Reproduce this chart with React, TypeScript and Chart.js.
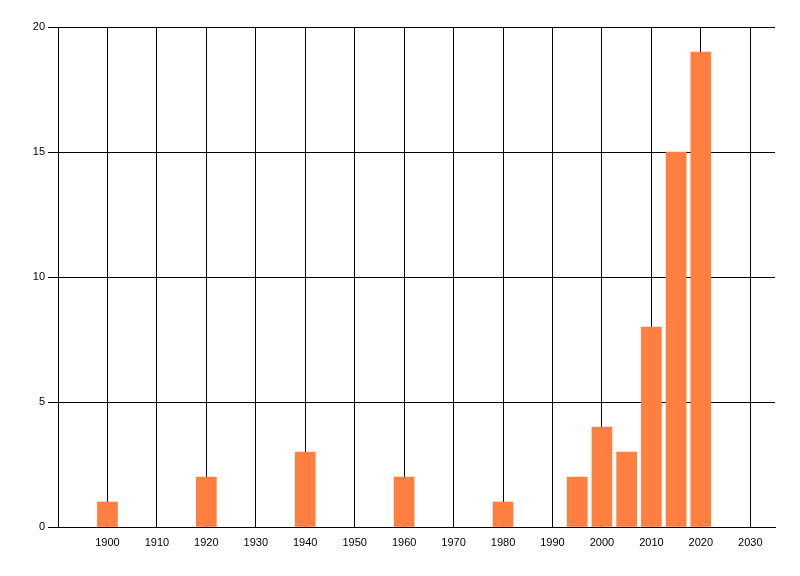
import React, { useEffect, useRef } from "react";
import { Chart, registerables } from "chart.js";

Chart.register(...registerables);

const years = [1900, 1920, 1940, 1960, 1980, 1995, 2000, 2005, 2010, 2015, 2020];
const counts = [1, 2, 3, 2, 1, 2, 4, 3, 8, 15, 19];
const xTicks = [1900, 1910, 1920, 1930, 1940, 1950, 1960, 1970, 1980, 1990, 2000, 2010, 2020, 2030];
const yTicks = [0, 5, 10, 15, 20];

export default function App() {
  const ref = useRef<HTMLCanvasElement | null>(null);
  useEffect(() => {
    document.body.style.margin = "0";
    const ctx = ref.current!;
    const font = { family: "'Liberation Sans', Arial, sans-serif", size: 11 };
    const chart = new Chart(ctx, {
      type: "bar",
      data: {
        datasets: [
          {
            data: years.map((y, i) => ({ x: y, y: counts[i] })),
            backgroundColor: "#FF7F40",
            borderWidth: 0,
            barThickness: 20,
          },
        ],
      },
      options: {
        animation: false,
        responsive: false,
        maintainAspectRatio: false,
        layout: { padding: { left: 0, right: 25, top: 27, bottom: 0 } },
        plugins: { legend: { display: false }, tooltip: { enabled: false } },
        scales: {
          x: {
            type: "linear",
            min: 1890,
            max: 2035,
            offset: false,
            afterBuildTicks: (scale: any) => {
              scale.ticks = xTicks.map((v) => ({ value: v }));
            },
            afterFit: (scale: any) => {
              scale.height = 49;
            },
            grid: { color: "#000", lineWidth: 1, drawTicks: false, offset: false },
            border: { color: "#000", width: 1 },
            ticks: {
              color: "#000",
              font,
              padding: 9,
              maxRotation: 0,
              autoSkip: false,
              callback: (v: any) => String(v),
            },
          },
          y: {
            min: 0,
            max: 20,
            afterBuildTicks: (scale: any) => {
              scale.ticks = yTicks.map((v) => ({ value: v }));
            },
            afterFit: (scale: any) => {
              scale.width = 58;
            },
            grid: { color: "#000", lineWidth: 1, tickLength: 10 },
            border: { color: "#000", width: 1 },
            ticks: { color: "#000", font, padding: 3, callback: (v: any) => String(v) },
          },
        },
      },
    });
    return () => chart.destroy();
  }, []);
  return (
    <div style={{ position: "absolute", left: 0, top: 0, width: 800, height: 576 }}>
      <canvas ref={ref} width={800} height={576} style={{ width: 800, height: 576 }} />
    </div>
  );
}
